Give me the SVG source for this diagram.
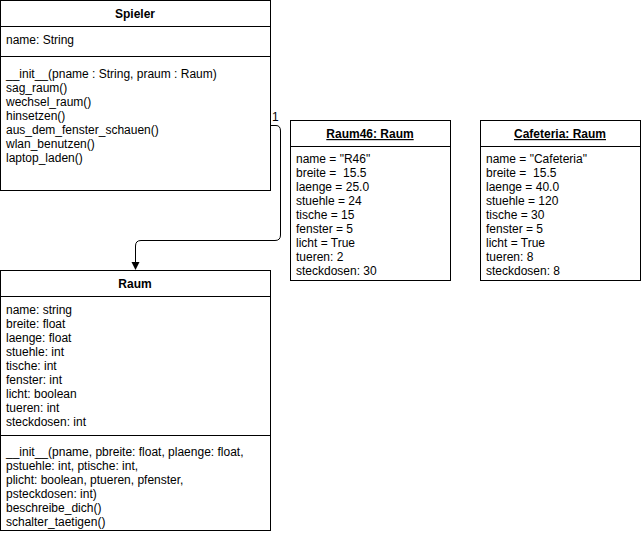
<svg xmlns="http://www.w3.org/2000/svg" width="641" height="534" viewBox="0 0 641 534">
<style>
.box{fill:#fff;stroke:#000;stroke-width:1}
.ln{stroke:#000;stroke-width:1;fill:none}
text{font-family:"Liberation Sans",Arial,sans-serif;font-size:12px;fill:#000}
.t{font-weight:bold;text-anchor:middle}
.u{text-decoration:underline}
</style>
<defs>
<marker id="arr" markerWidth="10" markerHeight="10" refX="4" refY="8" orient="auto" markerUnits="userSpaceOnUse" viewBox="0 0 10 10">
<path d="M0,0 L8,0 L4,8 Z" fill="#000" transform="translate(0,0)"/>
</marker>
</defs>
<rect width="641" height="534" fill="#fff"/>
<g id="connectors">
<path class="ln" d="M270.5,125.5 H276 Q280.5,125.5 280.5,131 V235 Q280.5,240.5 275,240.5 H141 Q135.5,240.5 135.5,246 V262"/>
<path d="M131.5,262 L139.5,262 L135.5,270 Z" fill="#000"/>
<text x="272" y="121" font-size="11">1</text>
</g>
<g id="spieler">
<rect class="box" x="0.5" y="0.5" width="270" height="190"/>
<line class="ln" x1="0.5" y1="26.5" x2="270.5" y2="26.5"/>
<line class="ln" x1="0.5" y1="56.5" x2="270.5" y2="56.5"/>
<text class="t" x="135" y="18">Spieler</text>
<text x="6" y="44">name: String</text>
<text x="6" y="78">__init__(pname : String, praum : Raum)</text>
<text x="6" y="92">sag_raum()</text>
<text x="6" y="106">wechsel_raum()</text>
<text x="6" y="120">hinsetzen()</text>
<text x="6" y="134">aus_dem_fenster_schauen()</text>
<text x="6" y="148">wlan_benutzen()</text>
<text x="6" y="162">laptop_laden()</text>
</g>
<g id="raum">
<rect class="box" x="0.5" y="270.5" width="270" height="260"/>
<line class="ln" x1="0.5" y1="296.5" x2="270.5" y2="296.5"/>
<line class="ln" x1="0.5" y1="435.5" x2="270.5" y2="435.5"/>
<text class="t" x="135" y="288">Raum</text>
<text x="6" y="314">name: string</text>
<text x="6" y="328">breite: float</text>
<text x="6" y="342">laenge: float</text>
<text x="6" y="356">stuehle: int</text>
<text x="6" y="370">tische: int</text>
<text x="6" y="384">fenster: int</text>
<text x="6" y="398">licht: boolean</text>
<text x="6" y="412">tueren: int</text>
<text x="6" y="426">steckdosen: int</text>
<text x="6" y="456">__init__(pname, pbreite: float, plaenge: float,</text>
<text x="6" y="470">pstuehle: int, ptische: int,</text>
<text x="6" y="484">plicht: boolean, ptueren, pfenster,</text>
<text x="6" y="498">psteckdosen: int)</text>
<text x="6" y="512">beschreibe_dich()</text>
<text x="6" y="526">schalter_taetigen()</text>
</g>
<g id="raum46">
<rect class="box" x="290.5" y="120.5" width="160" height="160"/>
<line class="ln" x1="290.5" y1="146.5" x2="450.5" y2="146.5"/>
<text class="t u" x="370" y="138">Raum46: Raum</text>
<text x="296" y="163">name = "R46"</text>
<text x="296" y="177" xml:space="preserve">breite =  15.5</text>
<text x="296" y="191">laenge = 25.0</text>
<text x="296" y="205">stuehle = 24</text>
<text x="296" y="219">tische = 15</text>
<text x="296" y="233">fenster = 5</text>
<text x="296" y="247">licht = True</text>
<text x="296" y="261">tueren: 2</text>
<text x="296" y="275">steckdosen: 30</text>
</g>
<g id="cafeteria">
<rect class="box" x="480.5" y="120.5" width="160" height="160"/>
<line class="ln" x1="480.5" y1="146.5" x2="640.5" y2="146.5"/>
<text class="t u" x="560" y="138">Cafeteria: Raum</text>
<text x="486" y="163">name = "Cafeteria"</text>
<text x="486" y="177" xml:space="preserve">breite =  15.5</text>
<text x="486" y="191">laenge = 40.0</text>
<text x="486" y="205">stuehle = 120</text>
<text x="486" y="219">tische = 30</text>
<text x="486" y="233">fenster = 5</text>
<text x="486" y="247">licht = True</text>
<text x="486" y="261">tueren: 8</text>
<text x="486" y="275">steckdosen: 8</text>
</g>
</svg>
